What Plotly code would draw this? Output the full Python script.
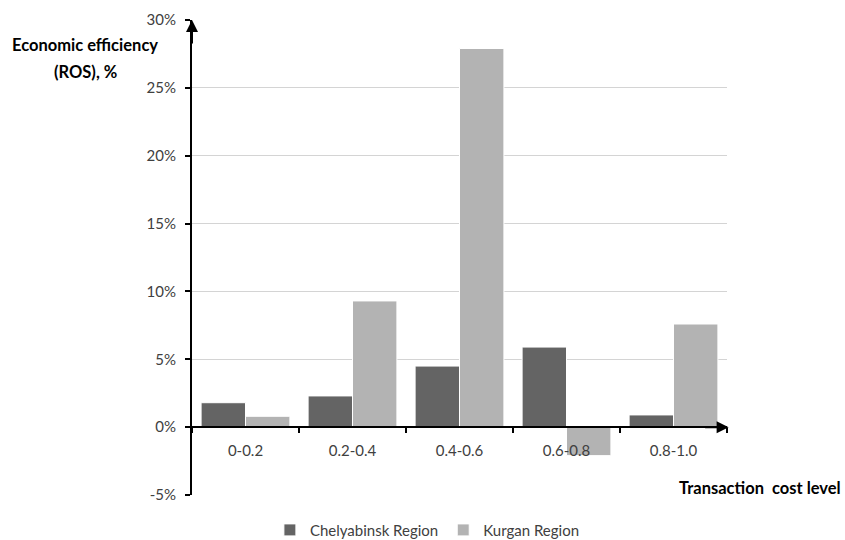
import plotly.graph_objects as go

# Transaction cost level bins and return on sales (%) by region
categories = ["0-0.2", "0.2-0.4", "0.4-0.6", "0.6-0.8", "0.8-1.0"]
chelyabinsk = [1.8, 2.3, 4.5, 5.9, 0.9]
kurgan = [0.8, 9.3, 27.9, -2.1, 7.6]
y_ticks = [-5, 0, 5, 10, 15, 20, 25, 30]
y_tick_labels = ["-5%", "0%", "5%", "10%", "15%", "20%", "25%", "30%"]

font_family = "Lato, Open Sans, sans-serif"

fig = go.Figure()
fig.add_trace(go.Bar(
    name="Chelyabinsk Region", x=categories, y=chelyabinsk,
    marker=dict(color="#646464", line=dict(color="#ffffff", width=1)),
))
fig.add_trace(go.Bar(
    name="Kurgan Region", x=categories, y=kurgan,
    marker=dict(color="#b3b3b3", line=dict(color="#ffffff", width=1)),
))

y_min, y_max = y_ticks[0], y_ticks[-1]

fig.update_layout(
    width=845, height=540,
    margin=dict(l=192, r=118, t=20, b=45, autoexpand=False),
    paper_bgcolor="white", plot_bgcolor="white",
    barmode="group", bargap=0.17, bargroupgap=0,
    font=dict(family=font_family, size=15, color="#404040"),
    showlegend=True,
    legend=dict(orientation="h", x=0.44, xanchor="center",
                y=-0.074, yanchor="middle",
                font=dict(size=15, color="#404040"), itemwidth=30,
                traceorder="normal"),
    xaxis=dict(
        type="category", anchor="free", position=(0 - y_min) / (y_max - y_min),
        showline=True, linecolor="black", linewidth=2,
        ticks="outside", tickson="boundaries", ticklen=5, tickcolor="black", tickwidth=2,
        showgrid=False, tickfont=dict(size=15, color="#404040"), ticklabelstandoff=10,
        range=[-0.5, 4.5],
    ),
    yaxis=dict(
        range=[y_min, y_max], tickvals=y_ticks, ticktext=y_tick_labels,
        showline=True, linecolor="black", linewidth=2,
        ticks="outside", ticklen=5, tickcolor="black", tickwidth=2,
        showgrid=True, gridcolor="#d4d4d4", gridwidth=1,
        zeroline=False, tickfont=dict(size=15, color="#404040"), ticklabelstandoff=6,
    ),
)

# Axis arrows
fig.add_annotation(xref="paper", yref="paper", x=0, y=1, ax=0, ay=25,
                   showarrow=True, arrowhead=2, arrowsize=1.2, arrowwidth=2,
                   arrowcolor="black", text="", standoff=0)
fig.add_annotation(xref="paper", yref="y", x=1.003, y=0, ax=-25, ay=0,
                   showarrow=True, arrowhead=2, arrowsize=1.2, arrowwidth=2,
                   arrowcolor="black", text="", standoff=0)

# Axis titles
title_font = dict(size=16.5, color="black")
fig.add_annotation(xref="paper", yref="paper", x=-0.2, y=0.947, xanchor="center", yanchor="middle",
                   text="<b>Economic efficiency</b>", showarrow=False, font=title_font)
fig.add_annotation(xref="paper", yref="paper", x=-0.2, y=0.89, xanchor="center", yanchor="middle",
                   text="<b>(ROS), %</b>", showarrow=False, font=title_font)
fig.add_annotation(xref="paper", yref="paper", x=1.217, y=0.0147, xanchor="right", yanchor="middle",
                   text="<b>Transaction  cost level</b>", showarrow=False, font=title_font)

fig.write_html("out.html")
